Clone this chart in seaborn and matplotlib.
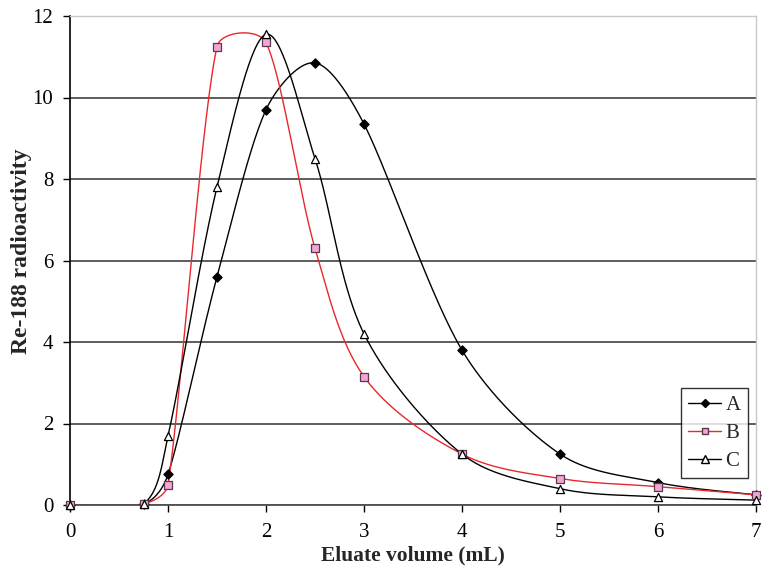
import numpy as np
import pandas as pd
import matplotlib
matplotlib.use("Agg")
import matplotlib.pyplot as plt
import seaborn as sns
from matplotlib.lines import Line2D

# Dados
volume = [0, 0.75, 1, 1.5, 2, 2.5, 3, 4, 5, 6, 7]
serie_a = [0, 0.03, 0.75, 5.6, 9.7, 10.85, 9.35, 3.8, 1.25, 0.55, 0.25]
serie_b = [0, 0.03, 0.5, 11.25, 11.35, 6.3, 3.15, 1.25, 0.65, 0.45, 0.25]
serie_c = [0, 0.03, 1.7, 7.8, 11.55, 8.5, 4.2, 1.25, 0.4, 0.2, 0.12]
nomes = ["A", "B", "C"]

# tamanho do eixo em pixels (para suavizar como o Excel)
LARG, ALT = 686.0, 489.0
XMAX, YMAX = 7.0, 12.0


def suavizar(x, y, n=60):
    """Curva de Bezier tipo Excel no espaço de tela (alças limitadas)"""
    p = np.column_stack([np.asarray(x, float) * LARG / XMAX,
                         np.asarray(y, float) * ALT / YMAX])
    p = np.vstack([p[0], p, p[-1]])
    t = np.linspace(0, 1, n)[:, None]
    partes = []
    for i in range(1, len(p) - 2):
        p0, p1, p2, p3 = p[i - 1], p[i], p[i + 1], p[i + 2]
        seg = np.linalg.norm(p2 - p1)
        d1 = p2 - p0
        d2 = p3 - p1
        n1 = np.linalg.norm(d1)
        n2 = np.linalg.norm(d2)
        c1 = p1 + (d1 / n1 * min(n1 / 6, seg / 3) if n1 > 0 else 0)
        c2 = p2 - (d2 / n2 * min(n2 / 6, seg / 3) if n2 > 0 else 0)
        curva = ((1 - t) ** 3) * p1 + 3 * (1 - t) ** 2 * t * c1 \
            + 3 * (1 - t) * t ** 2 * c2 + t ** 3 * p2
        partes.append(curva)
    out = np.vstack(partes)
    return out[:, 0] * XMAX / LARG, out[:, 1] * YMAX / ALT


sns.set_style("white")
plt.rcParams["font.family"] = ["Liberation Serif", "DejaVu Serif"]

fig = plt.figure(figsize=(7.62, 5.72), dpi=100)
ax = fig.add_axes([70 / 762, 1 - 505 / 572, LARG / 762, ALT / 572])

# grade horizontal
for yv in [0, 2, 4, 6, 8, 10]:
    ax.axhline(yv, color="#505050", lw=1.3, zorder=0)

cores = {"A": "black", "B": "#e8282c", "C": "black"}
linhas = []
for nome, vals in zip(nomes, [serie_a, serie_b, serie_c]):
    xs, ys = suavizar(volume, vals)
    linhas.append(pd.DataFrame({"x": xs, "y": ys, "serie": nome}))
df_linhas = pd.concat(linhas, ignore_index=True)

sns.lineplot(data=df_linhas, x="x", y="y", hue="serie", palette=cores,
             sort=False, estimator=None, legend=False, lw=1.0, ax=ax)

estilos = {
    "A": dict(marker="D", s=22, color="black", edgecolor="black"),
    "B": dict(marker="s", s=28, color="#f3a6d6", edgecolor="#5a3a4a"),
    "C": dict(marker="^", s=34, color="white", edgecolor="black"),
}
for nome, vals in zip(nomes, [serie_a, serie_b, serie_c]):
    sns.scatterplot(x=volume, y=vals, ax=ax, linewidth=0.9, zorder=3,
                    clip_on=False, legend=False, **estilos[nome])

ax.set_xlim(0, 7)
ax.set_ylim(0, 12)
ax.set_xticks(range(0, 8))
ax.set_yticks(range(0, 13, 2))
ax.tick_params(axis="both", labelsize=15, direction="out", length=5,
               width=1, colors="black")
ax.tick_params(axis="x", bottom=True, pad=8)
ax.tick_params(axis="y", left=True, pad=7)

ax.spines["left"].set_color("black")
ax.spines["left"].set_linewidth(1.2)
ax.spines["bottom"].set_color("#505050")
ax.spines["bottom"].set_linewidth(1.3)
for lado in ["top", "right"]:
    ax.spines[lado].set_color("#c8c8c8")
    ax.spines[lado].set_linewidth(1.0)

ax.set_xlabel("Eluate volume (mL)", fontsize=15.5, fontweight="bold")
ax.set_ylabel("Re-188 radioactivity", fontsize=17, fontweight="bold")
ax.xaxis.set_label_coords(0.5, -0.083)
ax.yaxis.set_label_coords(-0.056, 0.52)

handles = [
    Line2D([], [], color="black", lw=1, marker="D", markersize=4.5,
           markerfacecolor="black", markeredgecolor="black"),
    Line2D([], [], color="#e8282c", lw=1, marker="s", markersize=5,
           markerfacecolor="#f3a6d6", markeredgecolor="#5a3a4a"),
    Line2D([], [], color="black", lw=1, marker="^", markersize=5.5,
           markerfacecolor="white", markeredgecolor="black"),
]
leg = ax.legend(handles, nomes, loc="lower right", bbox_to_anchor=(0.988, 0.055),
                fontsize=15, frameon=True, fancybox=False, handlelength=1.6,
                handletextpad=0.2, borderpad=0.35, labelspacing=0.4,
                borderaxespad=0)
leg.get_frame().set_edgecolor("black")
leg.get_frame().set_linewidth(1.0)

fig.savefig("out.png", dpi=100)
plt.close(fig)
